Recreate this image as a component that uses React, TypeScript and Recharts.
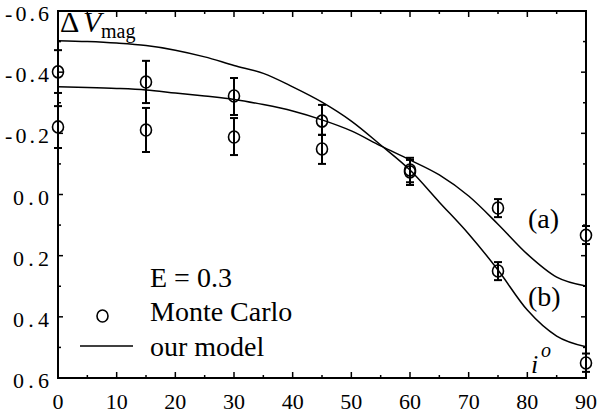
import React from "react";
import {
  ComposedChart,
  XAxis,
  YAxis,
  Line,
  Scatter,
  ErrorBar,
  ReferenceArea,
  Customized,
} from "recharts";

// ---------- data ----------
const modelAngles = [0, 5, 10, 15, 20, 25, 30, 35, 40, 45, 50, 55, 60, 65, 70, 75, 80, 85, 90];
const modelA = [-0.352, -0.35, -0.347, -0.342, -0.332, -0.322, -0.311, -0.294, -0.273, -0.244, -0.208, -0.159, -0.113, -0.064, 0.005, 0.097, 0.195, 0.27, 0.299];
const modelB = [-0.503, -0.5, -0.495, -0.487, -0.472, -0.45, -0.422, -0.396, -0.352, -0.302, -0.24, -0.162, -0.08, 0.025, 0.129, 0.247, 0.378, 0.463, 0.498];

const mcAngles = [0, 15, 30, 45, 60, 75, 90];
const mcSet1 = [-0.401, -0.368, -0.322, -0.24, -0.08, 0.25, 0.551];
const mcSet1Lo = [-0.472, -0.437, -0.381, -0.293, -0.12, 0.221, 0.52];
const mcSet1Hi = [-0.332, -0.299, -0.26, -0.195, -0.04, 0.28, 0.58];
const mcSet2 = [-0.221, -0.211, -0.188, -0.149, -0.074, 0.044, 0.133];
const mcSet2Lo = [-0.289, -0.283, -0.25, -0.195, -0.113, 0.015, 0.103];
const mcSet2Hi = [-0.152, -0.139, -0.129, -0.1, -0.031, 0.074, 0.162];

const xTicks = [0, 5, 10, 15, 20, 25, 30, 35, 40, 45, 50, 55, 60, 65, 70, 75, 80, 85, 90];
const yTicks = [-0.6, -0.5, -0.4, -0.3, -0.2, -0.1, 0, 0.1, 0.2, 0.3, 0.4, 0.5, 0.6];

const legendTitle = "E = 0.3";
const legendPoints = "Monte Carlo";
const legendLine = "our model";

// ---------- layout ----------
const W = 597;
const H = 419;
const MARGIN = { top: 11, right: 11, bottom: 0, left: 0 };
const Y_AXIS_W = 58;
const X_AXIS_H = 41;
const PLOT_LEFT = MARGIN.left + Y_AXIS_W;
const PLOT_RIGHT = W - MARGIN.right;
const PLOT_TOP = MARGIN.top;
const PLOT_BOTTOM = H - MARGIN.bottom - X_AXIS_H;
const FONT = "'Liberation Serif', 'DejaVu Serif', 'Noto Serif', 'Times New Roman', Times, serif";
const TXT = { fontFamily: FONT };

const lineA = modelAngles.map((x, i) => ({ x, y: modelA[i] }));
const lineB = modelAngles.map((x, i) => ({ x, y: modelB[i] }));
const pts1 = mcAngles.map((x, i) => ({ x, y: mcSet1[i], err: [mcSet1[i] - mcSet1Lo[i], mcSet1Hi[i] - mcSet1[i]] }));
const pts2 = mcAngles.map((x, i) => ({ x, y: mcSet2[i], err: [mcSet2[i] - mcSet2Lo[i], mcSet2Hi[i] - mcSet2[i]] }));

function XTick(props: any) {
  const { x, payload } = props;
  const v = payload.value;
  const major = Math.round(v) % 10 === 0;
  const len = major ? 6 : 3;
  return (
    <g>
      <line x1={x} x2={x} y1={PLOT_BOTTOM} y2={PLOT_BOTTOM - len} stroke="#000" strokeWidth={1.5} />
      <line x1={x} x2={x} y1={PLOT_TOP} y2={PLOT_TOP + len} stroke="#000" strokeWidth={1.5} />
      {major && (
        <text x={x} y={PLOT_BOTTOM + 31} textAnchor="middle" fontSize={22} style={TXT} fill="#000">
          {String(v)}
        </text>
      )}
    </g>
  );
}

function YTick(props: any) {
  const { y, payload } = props;
  const v = payload.value;
  const major = Math.round(Math.abs(v) * 10) % 2 === 0;
  const len = major ? 5 : 3;
  const label = v.toFixed(1);
  return (
    <g>
      <line x1={PLOT_LEFT} x2={PLOT_LEFT + len} y1={y} y2={y} stroke="#000" strokeWidth={1.5} />
      <line x1={PLOT_RIGHT} x2={PLOT_RIGHT - len} y1={y} y2={y} stroke="#000" strokeWidth={1.5} />
      {major && (
        <text
          x={PLOT_LEFT - 9}
          y={y + 10}
          textAnchor="end"
          fontSize={22}
          style={TXT}
          fill="#000"
          textLength={label.startsWith("-") ? 44 : 36}
          lengthAdjust="spacing"
        >
          {label}
        </text>
      )}
    </g>
  );
}

function OpenCircle(props: any) {
  const { cx, cy } = props;
  if (cx == null || cy == null) return <g />;
  return <ellipse cx={cx} cy={cy} rx={5.5} ry={6} fill="none" stroke="#000" strokeWidth={1.6} />;
}

function Annotations() {
  return (
    <g style={TXT} fill="#000">
      <text x={60} y={32} fontSize={30} style={TXT}>Δ</text>
      <text x={83} y={32} fontSize={30} fontStyle="italic" style={TXT}>V</text>
      <text x={101} y={38} fontSize={20} style={TXT}>mag</text>

      <text x={528} y={228} fontSize={28} style={TXT}>(a)</text>
      <text x={528} y={306} fontSize={28} style={TXT}>(b)</text>

      <text x={531} y={373} fontSize={26} fontStyle="italic" style={TXT}>i</text>
      <text x={541} y={357} fontSize={20} fontStyle="italic" style={TXT}>o</text>

      <text x={150} y={287} fontSize={28} style={TXT}>{legendTitle}</text>
      <ellipse cx={102.5} cy={316} rx={5.5} ry={6} fill="none" stroke="#000" strokeWidth={1.6} />
      <text x={150} y={321} fontSize={28} style={TXT}>{legendPoints}</text>
      <line x1={80} x2={133} y1={346} y2={346} stroke="#000" strokeWidth={1.5} />
      <text x={150} y={356} fontSize={28} style={TXT}>{legendLine}</text>
    </g>
  );
}

export default function App() {
  return (
    <div style={{ position: "absolute", left: 0, top: 0, width: W, height: H, background: "#fff" }}>
      <ComposedChart width={W} height={H} margin={MARGIN}>
        <XAxis
          type="number"
          dataKey="x"
          domain={[0, 90]}
          ticks={xTicks}
          interval={0}
          tick={<XTick />}
          tickLine={false}
          axisLine={false}
          tickSize={0}
          height={X_AXIS_H}
        />
        <YAxis
          type="number"
          dataKey="y"
          domain={[-0.6, 0.6]}
          ticks={yTicks}
          interval={0}
          reversed
          tick={<YTick />}
          tickLine={false}
          axisLine={false}
          tickSize={0}
          width={Y_AXIS_W}
        />
        <Line data={lineA} dataKey="y" type="monotone" stroke="#000" strokeWidth={1.5} dot={false} isAnimationActive={false} />
        <Line data={lineB} dataKey="y" type="monotone" stroke="#000" strokeWidth={1.5} dot={false} isAnimationActive={false} />
        <Scatter data={pts1} dataKey="y" shape={<OpenCircle />} isAnimationActive={false}>
          <ErrorBar dataKey="err" direction="y" width={4} stroke="#000" strokeWidth={2} isAnimationActive={false} />
        </Scatter>
        <Scatter data={pts2} dataKey="y" shape={<OpenCircle />} isAnimationActive={false}>
          <ErrorBar dataKey="err" direction="y" width={4} stroke="#000" strokeWidth={2} isAnimationActive={false} />
        </Scatter>
        <ReferenceArea x1={0} x2={90} y1={-0.6} y2={0.6} fill="none" fillOpacity={0} stroke="#000" strokeWidth={2} ifOverflow="visible" />
        <Customized component={Annotations} />
      </ComposedChart>
    </div>
  );
}
